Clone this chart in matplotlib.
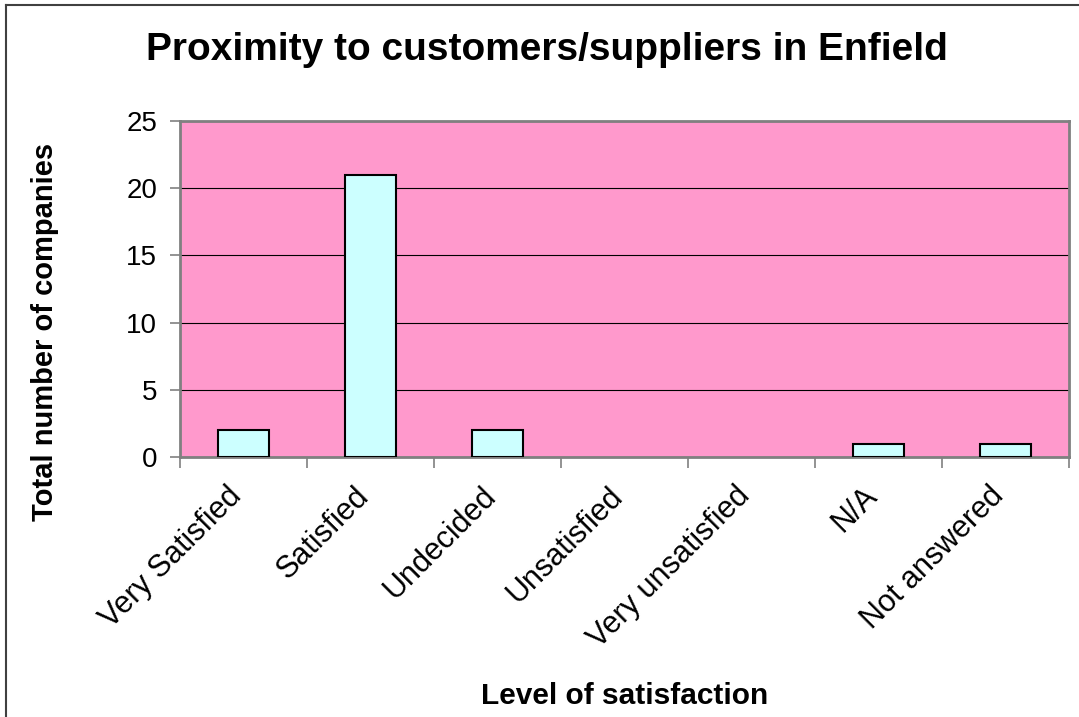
import matplotlib.pyplot as plt
from matplotlib.lines import Line2D
from matplotlib.transforms import ScaledTranslation
import numpy as np

categories = ['Very Satisfied', 'Satisfied', 'Undecided', 'Unsatisfied',
              'Very unsatisfied', 'N/A', 'Not answered']
counts = [2, 21, 2, 0, 0, 1, 1]

W, H = 1079, 717
plt.rcParams['font.family'] = ['Liberation Sans', 'DejaVu Sans']

fig = plt.figure(figsize=(W / 100, H / 100), dpi=100)
ax = fig.add_axes([180 / W, 1 - 457 / H, (1069 - 180) / W, (457 - 121) / H])
ax.set_facecolor('#FF99CC')

x = np.arange(len(categories))
# zero-height bars leave no visible outline in the original
edge_w = [1.5 if v > 0 else 0 for v in counts]
ax.bar(x, counts, width=0.4, color='#CCFFFF', edgecolor='black', linewidth=edge_w, zorder=3)

ax.set_xlim(-0.5, len(categories) - 0.5)
ax.set_ylim(0, 25)
ax.set_yticks([0, 5, 10, 15, 20, 25])
ax.yaxis.grid(True, color='black', linewidth=0.8, zorder=1)
ax.set_axisbelow(True)
ax.tick_params(axis='y', labelsize=20, length=7, color='#808080', width=1.2, pad=9.5)

ax.set_xticks(x)
ax.set_xticklabels(categories, rotation=45, ha='right', va='center',
                   rotation_mode='anchor', fontsize=22)
ax.tick_params(axis='x', which='major', length=0, pad=25)
ax.set_xticks(np.arange(-0.5, len(categories)), minor=True)
ax.tick_params(axis='x', which='minor', length=8, color='#808080', width=1.2)
shift = ScaledTranslation(-0.06, 0, fig.dpi_scale_trans)
for lbl in ax.get_xticklabels():
    lbl.set_transform(lbl.get_transform() + shift)

for s in ax.spines.values():
    s.set_color('#808080')
    s.set_linewidth(2)

fig.text(547 / W, 1 - 50 / H, 'Proximity to customers/suppliers in Enfield',
         ha='center', va='center', fontsize=28, fontweight='bold')
fig.text(45 / W, 1 - 332 / H, 'Total number of companies', rotation=90,
         ha='center', va='center', fontsize=21, fontweight='bold')
fig.text(625 / W, 1 - 696 / H, 'Level of satisfaction',
         ha='center', va='center', fontsize=21.5, fontweight='bold')

# chart border (cropped on the right and bottom)
fig.add_artist(Line2D([6 / W, 6 / W], [0, 1 - 5 / H], color='#404040', linewidth=1.5))
fig.add_artist(Line2D([6 / W, 1], [1 - 5 / H, 1 - 5 / H], color='#404040', linewidth=1.5))

fig.savefig('out.png', dpi=100)
